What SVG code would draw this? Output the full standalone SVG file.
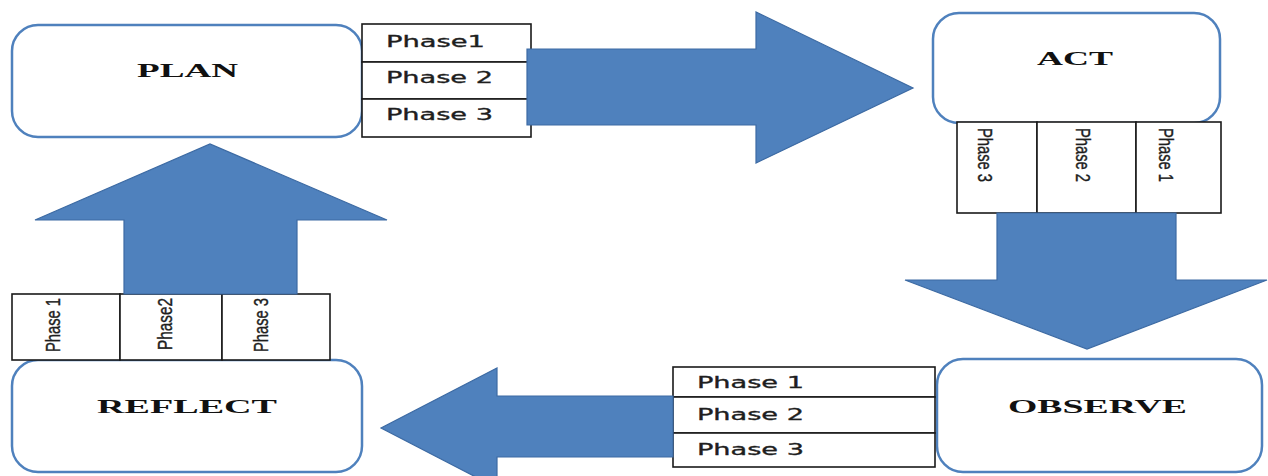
<svg xmlns="http://www.w3.org/2000/svg" width="1268" height="476" viewBox="0 0 1268 476">
  <style>
    .stage { fill: #ffffff; stroke: #4f81bd; stroke-width: 2.5; }
    .title { font-family: "Liberation Serif", "Times New Roman", serif; font-weight: bold; font-size: 19px; fill: #111111; }
    .cell { fill: #ffffff; stroke: #1a1a1a; stroke-width: 1.6; }
    .ph { font-family: "DejaVu Sans", Verdana, sans-serif; font-size: 16px; fill: #1e1e1e; stroke: #1e1e1e; stroke-width: 0.35; }
    .pv { font-family: "Liberation Sans", Arial, sans-serif; font-size: 15.5px; fill: #1e1e1e; stroke: #1e1e1e; stroke-width: 0.3; }
    .flow { fill: #4f81bd; stroke: #3c6aa3; stroke-width: 1.2; stroke-linejoin: miter; }
  </style>

  <rect width="1268" height="476" fill="#ffffff"/>

  <!-- PLAN stage with its phase list -->
  <g id="plan">
    <rect class="stage" x="12" y="25" width="350" height="112" rx="26"/>
    <text class="title" x="137" y="77" textLength="101" lengthAdjust="spacingAndGlyphs">PLAN</text>
    <rect class="cell" x="362" y="24" width="169" height="38"/>
    <rect class="cell" x="362" y="62" width="169" height="37"/>
    <rect class="cell" x="362" y="99" width="169" height="38"/>
    <text class="ph" x="386" y="47" textLength="99" lengthAdjust="spacingAndGlyphs">Phase1</text>
    <text class="ph" x="386" y="83" textLength="107" lengthAdjust="spacingAndGlyphs">Phase 2</text>
    <text class="ph" x="386" y="120" textLength="107" lengthAdjust="spacingAndGlyphs">Phase 3</text>
  </g>

  <!-- ACT stage with its phase columns -->
  <g id="act">
    <rect class="stage" x="933" y="13" width="287" height="110" rx="26"/>
    <text class="title" x="1037" y="65" textLength="76" lengthAdjust="spacingAndGlyphs">ACT</text>
    <rect class="cell" x="957" y="122" width="80" height="91"/>
    <rect class="cell" x="1037" y="122" width="99" height="91"/>
    <rect class="cell" x="1136" y="122" width="85" height="91"/>
    <text class="pv" transform="translate(978 128) scale(1.35 1) rotate(90)" textLength="54" lengthAdjust="spacingAndGlyphs">Phase 3</text>
    <text class="pv" transform="translate(1076 128) scale(1.35 1) rotate(90)" textLength="54" lengthAdjust="spacingAndGlyphs">Phase 2</text>
    <text class="pv" transform="translate(1159 128) scale(1.35 1) rotate(90)" textLength="54" lengthAdjust="spacingAndGlyphs">Phase 1</text>
  </g>

  <!-- OBSERVE stage with its phase list -->
  <g id="observe">
    <rect class="stage" x="937" y="359" width="325" height="113" rx="26"/>
    <text class="title" x="1008" y="413" textLength="179" lengthAdjust="spacingAndGlyphs">OBSERVE</text>
    <rect class="cell" x="673" y="367" width="262" height="30"/>
    <rect class="cell" x="673" y="397" width="262" height="36"/>
    <rect class="cell" x="673" y="433" width="262" height="34"/>
    <text class="ph" x="697" y="388" textLength="107" lengthAdjust="spacingAndGlyphs">Phase 1</text>
    <text class="ph" x="697" y="420" textLength="107" lengthAdjust="spacingAndGlyphs">Phase 2</text>
    <text class="ph" x="697" y="455" textLength="107" lengthAdjust="spacingAndGlyphs">Phase 3</text>
  </g>

  <!-- REFLECT stage with its phase columns -->
  <g id="reflect">
    <rect class="stage" x="12" y="360" width="350" height="112" rx="26"/>
    <text class="title" x="97" y="413" textLength="180" lengthAdjust="spacingAndGlyphs">REFLECT</text>
    <rect class="cell" x="12" y="294" width="108" height="66"/>
    <rect class="cell" x="120" y="294" width="102" height="66"/>
    <rect class="cell" x="222" y="294" width="108" height="66"/>
    <text class="pv" transform="translate(60 352) scale(1.35 1) rotate(-90)" textLength="54" lengthAdjust="spacingAndGlyphs">Phase 1</text>
    <text class="pv" transform="translate(172 350) scale(1.35 1) rotate(-90)" textLength="52" lengthAdjust="spacingAndGlyphs">Phase2</text>
    <text class="pv" transform="translate(268 352) scale(1.35 1) rotate(-90)" textLength="54" lengthAdjust="spacingAndGlyphs">Phase 3</text>
  </g>

  <!-- block arrows linking the stages clockwise -->
  <g id="connectors">
    <polygon class="flow" points="527,49 756,49 756,12 913,88 756,163 756,125 527,125"/>
    <polygon class="flow" points="997,213 1176,213 1176,280 1267,280 1087,349 905,280 997,280"/>
    <polygon class="flow" points="673,396 497,396 497,368 381,428 497,488 497,457 673,457"/>
    <polygon class="flow" points="124,294 124,220 35,220 210,144 387,220 297,220 297,294"/>
  </g>
</svg>
